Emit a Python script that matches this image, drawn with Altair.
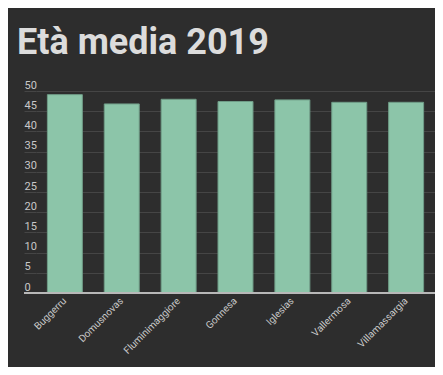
import altair as alt
import pandas as pd

comuni = ["Buggerru", "Domusnovas", "Fluminimaggiore", "Gonnesa", "Iglesias", "Vallermosa", "Villamassargia"]
eta_media = [49.1, 46.8, 47.95, 47.4, 47.8, 47.2, 47.2]
y_ticks = [0, 5, 10, 15, 20, 25, 30, 35, 40, 45, 50]

df = pd.DataFrame({"comune": comuni, "eta": eta_media})
base_df = pd.DataFrame({"eta": [0]})

W, H = 399, 202

y_axis = alt.Axis(title=None, values=y_ticks, grid=True, gridColor="#454545",
                  gridWidth=1, domain=False, ticks=True, tickSize=12, tickColor="#454545",
                  labelAlign="left", labelBaseline="bottom", labelPadding=0, labelOffset=-1,
                  labelOverlap=False, labelFlush=False,
                  labelColor="#c8c8c8", labelFont="Roboto", labelFontSize=11)
y_scale = alt.Scale(domain=[0, 50], nice=False)

bars = alt.Chart(df).mark_bar(
    color="#8cc5a9", stroke="#6f9c87", strokeWidth=1
).encode(
    x=alt.X("comune:N", sort=comuni,
            scale=alt.Scale(paddingInner=0.385, paddingOuter=0.2),
            axis=alt.Axis(title=None, labelAngle=-45, labelAlign="right", labelBaseline="middle",
                          labelColor="#c8c8c8", labelFont="Roboto", labelFontSize=10,
                          domain=False, ticks=False, labelPadding=6, labelOverlap=False)),
    y=alt.Y("eta:Q", scale=y_scale, axis=y_axis),
)

baseline = alt.Chart(base_df).mark_rule(color="#b8b8b8", strokeWidth=2).encode(
    y=alt.Y("eta:Q", scale=y_scale, axis=y_axis),
    x=alt.value(-12), x2=alt.value(W),
)

chart = alt.layer(bars, baseline).properties(
    width=W, height=H,
    background="#2d2d2d",
    autosize=alt.AutoSizeParams(type="none"),
    padding={"left": 28, "top": 83, "right": 0, "bottom": 74},
    title=alt.TitleParams("Età media 2019", anchor="start", frame="group", font="Roboto",
                          fontSize=36, fontWeight="bold", color="#dcdcdc", dx=-19,
                          baseline="alphabetic", offset=-11),
).configure_view(stroke=None)

chart.save("out.html", embed_options={"renderer": "svg", "actions": False})
